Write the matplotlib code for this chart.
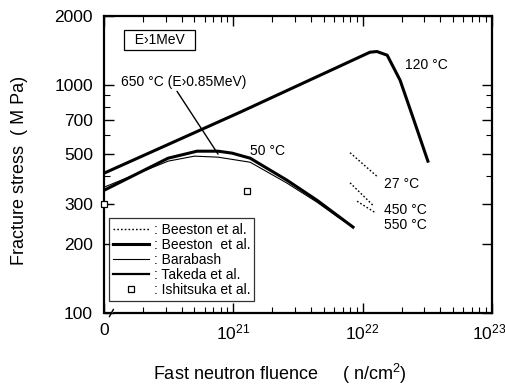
import numpy as np
import matplotlib.pyplot as plt
from matplotlib.lines import Line2D
from matplotlib.ticker import FixedLocator, NullFormatter
from matplotlib.transforms import ScaledTranslation

plt.rcParams['font.family'] = ['Liberation Sans', 'DejaVu Sans']
plt.rcParams['mathtext.fontset'] = 'custom'
plt.rcParams['mathtext.rm'] = 'Liberation Sans'
plt.rcParams['mathtext.default'] = 'regular'

# -----------------------------
# DATA
# -----------------------------
# Beeston et al. (solid, thick), 120 C
x_120 = [1e20, 1.13e21, 1.14e22, 1.29e22, 1.55e22, 1.95e22, 2.45e22, 3.2e22]
y_120 = [410, 759, 1390, 1400, 1349, 1048, 721, 463]

# Beeston et al. (solid, thick), 50 C
x_50 = [1e20, 3.13e20, 5.24e20, 7.62e20, 9.78e20, 1.35e21, 2.6e21, 4.44e21, 8.43e21]
y_50 = [345, 477, 512, 512, 502, 477, 382, 312, 238]

# Barabash (thin), 650 C
x_650 = [1e20, 3.13e20, 5.0e20, 7.62e20, 1.35e21, 2.6e21, 4.44e21, 6.45e21, 8.0e21]
y_650 = [356, 463, 487, 482, 458, 371, 306, 263, 243]

# Beeston et al. (dotted)
x_27 = [8.0e21, 1.32e22]
y_27 = [504, 393]
x_450 = [8.0e21, 1.2e22]
y_450 = [372, 297]
x_550 = [9.06e21, 1.27e22]
y_550 = [309, 274]

# Ishitsuka et al. (squares)
x_sq = [1e20, 1.28e21]
y_sq = [300, 342]

y_ticks = [100, 200, 300, 500, 700, 1000, 2000]
x_ticks = [1e20, 1e21, 1e22, 1e23]
x_ticklabels = ['0', '10$^{21}$', '10$^{22}$', '10$^{23}$']

# -----------------------------
# PLOT
# -----------------------------
fig = plt.figure(figsize=(5.05, 3.85), dpi=100)
ax = fig.add_axes([0.206, 0.187, 0.768, 0.771])
ax.set_xscale('log')
ax.set_yscale('log')
ax.set_xlim(1e20, 1e23)
ax.set_ylim(100, 2000)

ax.plot(x_120, y_120, color='black', lw=2.2)
ax.plot(x_50, y_50, color='black', lw=2.2)
ax.plot(x_650, y_650, color='black', lw=0.8)
for xs, ys in [(x_27, y_27), (x_450, y_450), (x_550, y_550)]:
    ax.plot(xs, ys, color='black', lw=1.0, ls=(0, (1.2, 1.5)))
ax.plot(x_sq, y_sq, ls='none', marker='s', ms=5, mfc='white', mec='black', mew=0.9,
        clip_on=False, zorder=5)

# labels on curves
fs = 10
ax.text(2.13e22, 1219, '120 °C', fontsize=fs, va='center')
ax.text(1.35e21, 512, '50 °C', fontsize=fs, va='center')
ax.text(1.47e22, 367, '27 °C', fontsize=fs, va='center')
ax.text(1.47e22, 282, '450 °C', fontsize=fs, va='center')
ax.text(1.47e22, 243, '550 °C', fontsize=fs, va='center')
ax.text(1.35e20, 1026, '650 °C (E›0.85MeV)', fontsize=fs, va='center')
ax.annotate('', xy=(7.62e20, 497), xytext=(3.67e20, 937),
            arrowprops=dict(arrowstyle='-', color='black', lw=1.0, shrinkA=0, shrinkB=0))

ax.text(0.144, 0.919, '  E›1MeV  ', transform=ax.transAxes, fontsize=fs,
        ha='center', va='center',
        bbox=dict(boxstyle='square,pad=0.2', fc='white', ec='black', lw=0.9))

# legend
handles = [
    Line2D([], [], color='black', lw=1.0, ls=(0, (1.2, 1.5))),
    Line2D([], [], color='black', lw=2.2),
    Line2D([], [], color='black', lw=0.8),
    Line2D([], [], color='black', lw=1.6),
    Line2D([], [], ls='none', marker='s', ms=5, mfc='white', mec='black', mew=0.9),
]
labels = [': Beeston et al.', ': Beeston  et al.', ': Barabash', ': Takeda et al.',
          ': Ishitsuka et al.']
leg = ax.legend(handles, labels, loc='lower left', bbox_to_anchor=(0.013, 0.04),
                fontsize=fs, frameon=True, fancybox=False, handlelength=2.6,
                handletextpad=0.3, labelspacing=0.08, borderpad=0.3,
                borderaxespad=0)
leg.get_frame().set_edgecolor('black')
leg.get_frame().set_linewidth(0.9)

# axes styling
ax.yaxis.set_major_locator(FixedLocator(y_ticks))
ax.yaxis.set_ticklabels([str(v) for v in y_ticks])
ax.yaxis.set_minor_locator(FixedLocator([400, 600, 800, 900]))
ax.yaxis.set_minor_formatter(NullFormatter())
ax.xaxis.set_major_locator(FixedLocator(x_ticks))
ax.xaxis.set_ticklabels(x_ticklabels)
ax.xaxis.set_minor_formatter(NullFormatter())
ax.tick_params(which='both', direction='in', top=True, right=True, labelsize=12.5)
ax.tick_params(which='major', length=7, width=1.0)
ax.tick_params(which='minor', length=4, width=0.8)
ax.tick_params(axis='y', pad=8)
ax.tick_params(axis='x', pad=7)
for s in ax.spines.values():
    s.set_linewidth(1.6)

# nudge the last x tick label so it stays inside the figure
last = ax.xaxis.get_majorticklabels()[-1]
last.set_transform(last.get_transform() + ScaledTranslation(-3 / 100, 0, fig.dpi_scale_trans))

# axis break at the origin
ax.spines['bottom'].set_bounds(1.2e20, 1e23)
ax.plot([0.004, 0.018], [0.0, 0.0], transform=ax.transAxes, color='black', lw=1.6,
        clip_on=False)
ax.plot([0.014, 0.024], [-0.012, 0.012], transform=ax.transAxes, color='black', lw=1.0,
        clip_on=False)

ax.set_ylabel('Fracture stress  ( M Pa)', fontsize=13)
ax.yaxis.set_label_coords(-0.195, 0.48)
ax.set_xlabel('Fast neutron fluence     ( n/cm$^{2}$)', fontsize=13)
ax.xaxis.set_label_coords(0.454, -0.165)

fig.savefig('out.png', dpi=100)
